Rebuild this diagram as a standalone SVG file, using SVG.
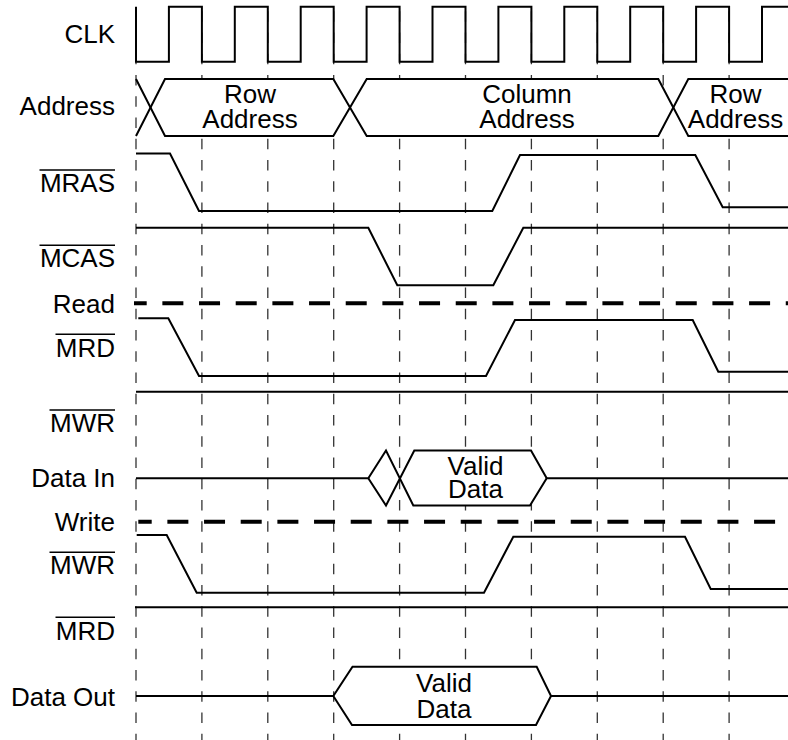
<svg xmlns="http://www.w3.org/2000/svg" width="788" height="740" viewBox="0 0 788 740">
<style>
.lbl{font-family:"Liberation Sans",Arial,Helvetica,sans-serif;font-size:26px;fill:#000;text-anchor:end}
.ctr{font-family:"Liberation Sans",Arial,Helvetica,sans-serif;font-size:26px;fill:#000;text-anchor:middle}
.sig{fill:none;stroke:#000;stroke-width:2;stroke-linejoin:miter;stroke-linecap:butt}
.bus{fill:#fff;stroke:none}
.grid{stroke:#333;stroke-width:1.3;stroke-dasharray:10.5 10.75}
.mode{stroke:#000;stroke-width:4;stroke-dasharray:21 15.67}
.ovl{stroke:#000;stroke-width:1.6}
</style>
<rect width="788" height="740" fill="#fff"/>
<g id="gridlines">
<line class="grid" x1="136" y1="11.25" x2="136" y2="740"/>
<line class="grid" x1="201.9" y1="11.25" x2="201.9" y2="740"/>
<line class="grid" x1="267.8" y1="11.25" x2="267.8" y2="740"/>
<line class="grid" x1="333.7" y1="11.25" x2="333.7" y2="740"/>
<line class="grid" x1="399.6" y1="11.25" x2="399.6" y2="740"/>
<line class="grid" x1="465.5" y1="11.25" x2="465.5" y2="740"/>
<line class="grid" x1="531.4" y1="11.25" x2="531.4" y2="740"/>
<line class="grid" x1="597.3" y1="11.25" x2="597.3" y2="740"/>
<line class="grid" x1="663.2" y1="11.25" x2="663.2" y2="740"/>
<line class="grid" x1="729.1" y1="11.25" x2="729.1" y2="740"/>
</g>
<g id="clk">
<text class="lbl" x="115" y="43.3">CLK</text>
<path class="sig" d="M136,6.7 V61.7 H168.9 V6.7 H201.9 V61.7 H234.8 V6.7 H267.8 V61.7 H300.7 V6.7 H333.7 V61.7 H366.6 V6.7 H399.6 V61.7 H432.5 V6.7 H465.5 V61.7 H498.4 V6.7 H531.4 V61.7 H564.3 V6.7 H597.3 V61.7 H630.2 V6.7 H663.2 V61.7 H696.1 V6.7 H729.1 V61.7 H762 V6.7 H788"/>
</g>
<g id="address">
<text class="lbl" x="115" y="115">Address</text>
<polygon class="bus" points="150.5,107.5 165,79 333.3,79 350,107.5 333.3,136 165,136"/>
<polygon class="bus" points="350,107.5 366.7,79 658.3,79 673.3,107.5 658.3,136 366.7,136"/>
<polygon class="bus" points="673.3,107.5 688.3,79 788,79 788,136 688.3,136"/>
<path class="sig" d="M136,79 L165,136 H333.3 L366.7,79 H658.3 L688.3,136 H788"/>
<path class="sig" d="M136,136 L165,79 H333.3 L366.7,136 H658.3 L688.3,79 H788"/>
<text class="ctr" x="250" y="103.3">Row</text>
<text class="ctr" x="250" y="128.3">Address</text>
<text class="ctr" x="527" y="103.3">Column</text>
<text class="ctr" x="527" y="128.3">Address</text>
<text class="ctr" x="735.5" y="103.3">Row</text>
<text class="ctr" x="735.5" y="128.3">Address</text>
</g>
<g id="mras">
<text class="lbl" x="115" y="191.7">MRAS</text>
<line class="ovl" x1="39.5" y1="170" x2="115" y2="170"/>
<path class="sig" d="M136,153.5 H170 L199,211 H492.3 L520,155 H695.3 L722.7,207.3 H788"/>
</g>
<g id="mcas">
<text class="lbl" x="115" y="266.7">MCAS</text>
<line class="ovl" x1="39.5" y1="245.3" x2="115" y2="245.3"/>
<path class="sig" d="M136,227.7 H368.3 L397.3,285.3 H493.3 L523.3,227.7 H788"/>
</g>
<g id="read">
<text class="lbl" x="115" y="312.7">Read</text>
<line class="mode" x1="134" y1="303.3" x2="788" y2="303.3" stroke-dashoffset="8.3"/>
</g>
<g id="mrd-read">
<text class="lbl" x="115" y="356.7">MRD</text>
<line class="ovl" x1="55.5" y1="334.3" x2="115" y2="334.3"/>
<path class="sig" d="M138.3,318.3 H168.3 L199,376 H486 L515,320 H692.7 L718.3,371.7 H788"/>
</g>
<g id="mwr-read">
<text class="lbl" x="115" y="431.7">MWR</text>
<line class="ovl" x1="49.5" y1="410" x2="115" y2="410"/>
<path class="sig" d="M136,391.7 H788"/>
</g>
<g id="data-in">
<text class="lbl" x="115" y="487.3">Data In</text>
<polygon class="bus" points="399.3,478 414.3,450.5 531,450.5 546.7,478.3 530,505.5 413.3,505.5"/>
<path class="sig" d="M136,478.3 H368.3 L386,450.5 L413.3,505.5 H530 L546.7,478.3 H788"/>
<path class="sig" d="M368.3,478.3 L386,505.5 L414.3,450.5 H531 L546.7,478.3"/>
<text class="ctr" x="475.5" y="475">Valid</text>
<text class="ctr" x="475.5" y="497.5">Data</text>
</g>
<g id="write">
<text class="lbl" x="115" y="530.7">Write</text>
<line class="mode" x1="138.3" y1="521.7" x2="788" y2="521.7" stroke-dashoffset="7.6"/>
</g>
<g id="mwr-write">
<text class="lbl" x="115" y="574">MWR</text>
<line class="ovl" x1="49.5" y1="552.3" x2="115" y2="552.3"/>
<path class="sig" d="M136.7,535 H166.7 L196.7,592.7 H484 L513.3,536.7 H685 L710.7,589 H788"/>
</g>
<g id="mrd-write">
<text class="lbl" x="115" y="640">MRD</text>
<line class="ovl" x1="55.5" y1="617.3" x2="115" y2="617.3"/>
<path class="sig" d="M135,607.3 H788"/>
</g>
<g id="data-out">
<text class="lbl" x="115" y="705.7">Data Out</text>
<polygon class="bus" points="333.3,696 352.5,666.7 536.7,666.7 551,696 536,725 352,725"/>
<path class="sig" d="M136,696 H333.3 L352.5,666.7 H536.7 L551,696 H788"/>
<path class="sig" d="M333.3,696 L352,725 H536 L551,696"/>
<text class="ctr" x="444" y="691.7">Valid</text>
<text class="ctr" x="444" y="718.3">Data</text>
</g>
</svg>
